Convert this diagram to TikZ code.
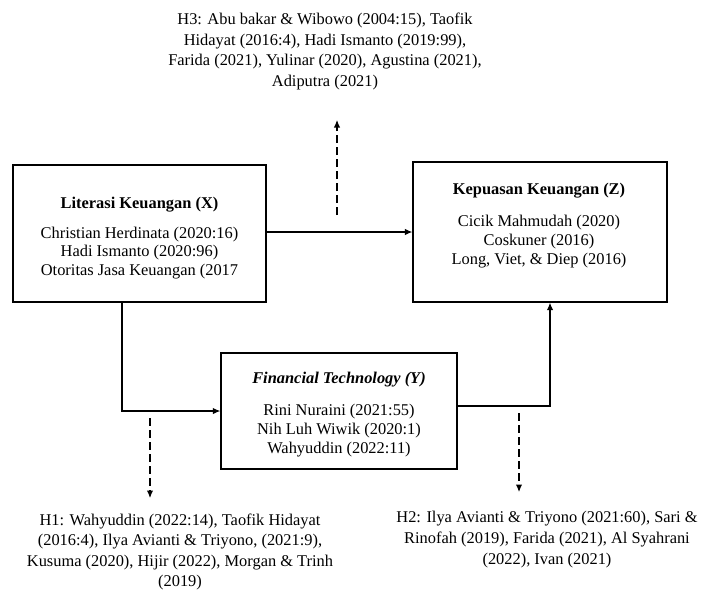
\documentclass[tikz,border=0pt]{standalone}
\usepackage{fontspec}
\setmainfont{Liberation Serif}
\usetikzlibrary{arrows.meta}
\begin{document}
\begin{tikzpicture}[x=1pt,y=1pt,
  box/.style={draw, line width=1.4pt, inner sep=0pt, rectangle},
  ttl/.style={font=\fontsize{16.4}{18.5}\selectfont\bfseries, inner sep=0pt, align=center, yshift=-2.5pt},
  lst/.style={font=\fontsize{16.4}{18.6}\selectfont, inner sep=0pt, align=center, yshift=-2.5pt},
  hyp/.style={font=\fontsize{16.4}{20.6}\selectfont, inner sep=0pt, align=center, yshift=-2.5pt},
  arr/.style={line width=1.1pt, -{Latex[length=7.5pt,width=6.5pt]}},
  dasharr/.style={line width=1.1pt, dash pattern=on 8pt off 4pt, -{Latex[length=7.5pt,width=6.5pt]}}]
\useasboundingbox (0,0) rectangle (701,-590);

% boxes
\node[box, minimum width=253pt, minimum height=137pt] (X) at (139.5,-233.5) {};
\node[ttl] (Xt) at (139.5,-202) {Literasi Keuangan (X)};
\node[lst] (Xl) at (139.5,-250.5) {Christian Herdinata (2020:16)\\Hadi Ismanto (2020:96)\\Otoritas Jasa Keuangan (2017};

\node[box, minimum width=254pt, minimum height=140pt] (Z) at (540,-232) {};
\node[ttl] (Zt) at (539,-188) {Kepuasan Keuangan (Z)};
\node[lst] (Zl) at (539,-239) {Cicik Mahmudah (2020)\\Coskuner (2016)\\Long, Viet, \& Diep (2016)};

\node[box, minimum width=236pt, minimum height=116pt] (Y) at (339,-411) {};
\node[ttl] (Yt) at (339,-377) {\itshape Financial Technology (Y)};
\node[lst] (Yl) at (339,-428) {Rini Nuraini (2021:55)\\Nih Luh Wiwik (2020:1)\\Wahyuddin (2022:11)};

% hypothesis texts
\node[hyp] (H3) at (325,-49) {H3: Abu bakar \& Wibowo (2004:15), Taofik\\Hidayat (2016:4), Hadi Ismanto (2019:99),\\Farida (2021), Yulinar (2020), Agustina (2021),\\Adiputra (2021)};
\node[hyp] (H1) at (180,-549.5) {H1: Wahyuddin (2022:14), Taofik Hidayat\\(2016:4), Ilya Avianti \& Triyono, (2021:9),\\Kusuma (2020), Hijir (2022), Morgan \& Trinh\\(2019)};
\node[hyp] (H2) at (547,-537) {H2: Ilya Avianti \& Triyono (2021:60), Sari \&\\Rinofah (2019), Farida (2021), Al Syahrani\\(2022), Ivan (2021)};

% connectors
\draw[arr] (X.east |- Z.west) -- (Z.west);
\draw[arr] ([xshift=-17.5pt]X.south) |- (Y.west);
\draw[arr] ([yshift=5pt]Y.east) -| ([xshift=10pt]Z.south);

% dashed hypothesis arrows
\coordinate (h3a) at (337,-215);
\coordinate (h3b) at (337,-120);
\coordinate (h1a) at (150,-418);
\coordinate (h1b) at (150,-498);
\coordinate (h2a) at (519,-413);
\coordinate (h2b) at (519,-492);
\draw[dasharr] (h3a) -- (h3b);
\draw[dasharr] (h1a) -- (h1b);
\draw[dasharr] (h2a) -- (h2b);
\end{tikzpicture}
\end{document}
